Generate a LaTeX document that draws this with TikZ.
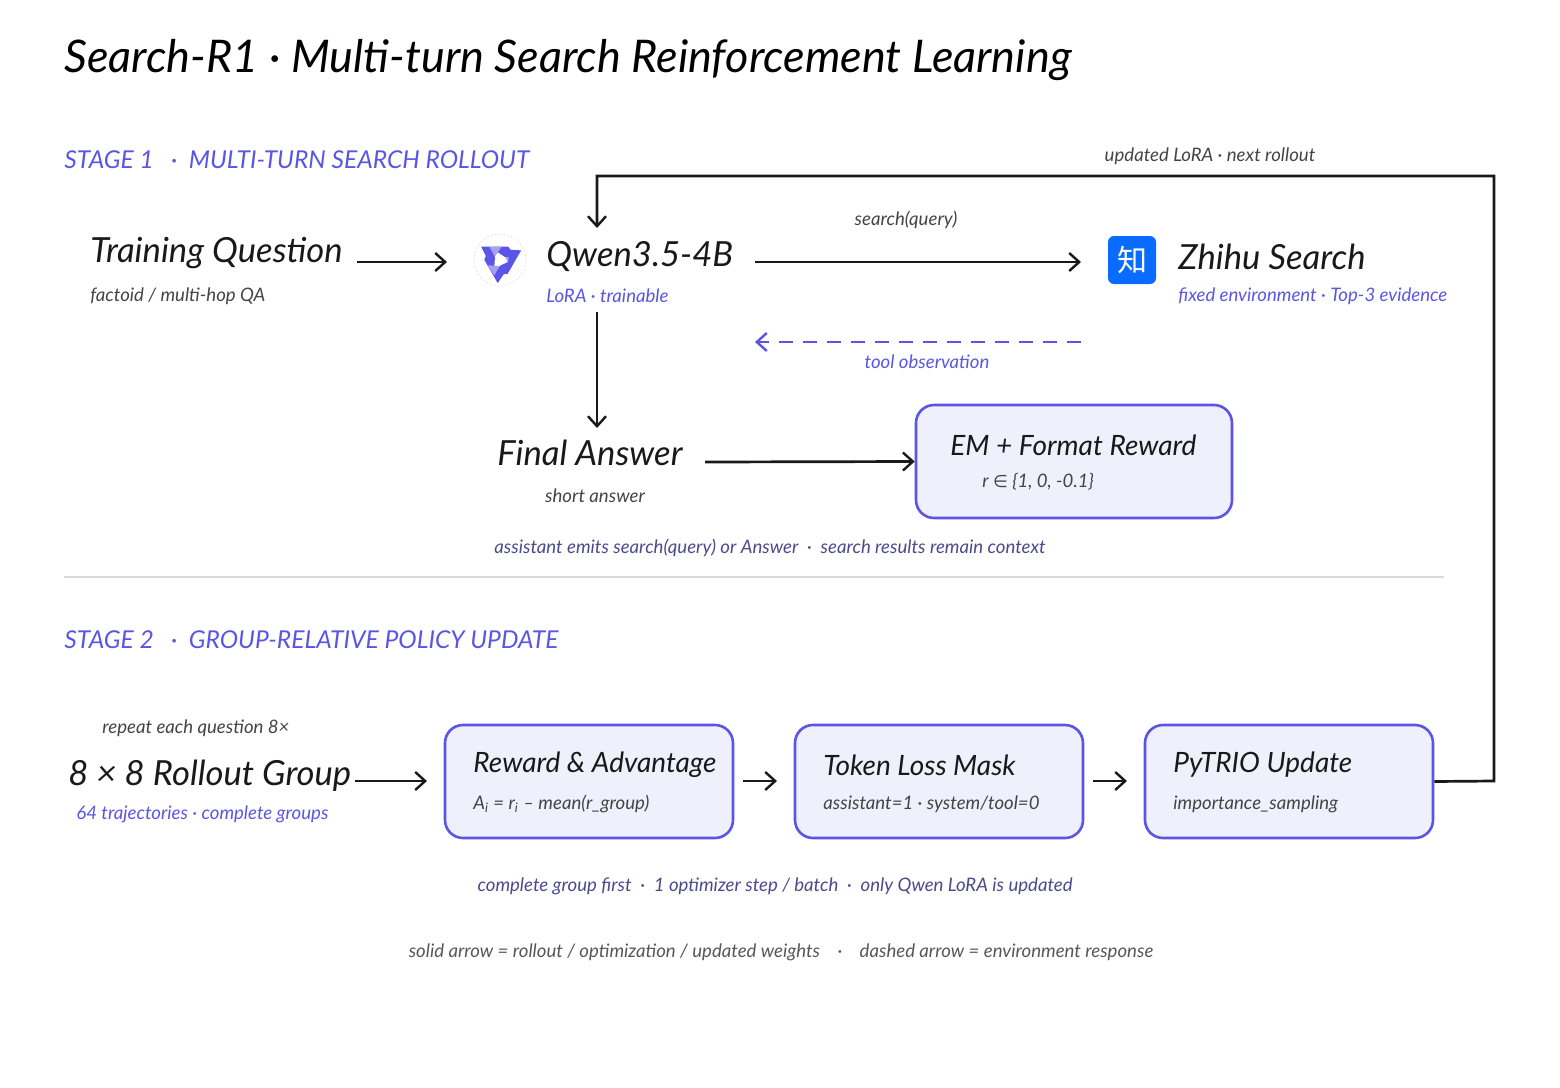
\documentclass[tikz,border=0pt]{standalone}
\usepackage{fontspec}
\setmainfont{Lato}
\newfontfamily\cjk{Noto Sans CJK SC}
\newfontfamily\dv{DejaVu Sans}
\usetikzlibrary{arrows.meta}
\definecolor{vio}{HTML}{5A55E6}
\definecolor{boxfill}{HTML}{F0F0FD}
\definecolor{note}{HTML}{4B4A8C}
\definecolor{sub}{HTML}{444444}
\definecolor{zh}{HTML}{0A6CFF}
\begin{document}
\begin{tikzpicture}[x=0.5pt,y=-0.5pt,
  every node/.style={inner sep=0pt,font=\itshape},
  big/.style={anchor=west,font=\itshape\fontsize{17.3}{20}\selectfont,text=black!90},
  subt/.style={anchor=west,font=\itshape\fontsize{9.3}{11}\selectfont,text=sub},
  vsub/.style={anchor=west,font=\itshape\fontsize{9.3}{11}\selectfont,text=vio},
  stage/.style={anchor=west,font=\itshape\fontsize{12.3}{14}\selectfont,text=vio},
  note/.style={font=\itshape\fontsize{9.3}{11}\selectfont,text=note},
  box/.style={draw=vio,line width=1.3pt,fill=boxfill,rounded corners=9pt},
  btitle/.style={anchor=west,font=\itshape\fontsize{14}{16}\selectfont,text=black!90},
  arr/.style={-{Straight Barb[length=5pt,width=9pt,line width=1.2pt]},line width=1.35pt,black!90},
]
\useasboundingbox (0,0) rectangle (1560,1088);
\node[anchor=west,font=\itshape\fontsize{22.5}{26}\selectfont] (title) at (64,60) {Search-R1 · Multi-turn Search Reinforcement Learning};
\node[stage] (s1) at (64,160) {STAGE 1\ \ \ ·\ \ MULTI-TURN SEARCH ROLLOUT};
% stage 1
\node[big] (tq) at (90,253) {Training Question};
\node[subt] (tqs) at (90,296) {factoid / multi-hop QA};
\coordinate (tqe) at (357,262);
\coordinate (qin) at (447,262);
\draw[arr] (tqe) -- (qin);
% qwen logo
\node[circle,draw=black!10,dash pattern=on 1pt off 1pt,minimum size=26pt,fill=white] (logo) at (500,260) {};
\begin{scope}[shift={(500,260)},scale=1.35]
\foreach \a in {0,120,240}{
 \fill[vio,rotate=\a] (-14,-10) -- (6,-10) -- (12,-2) -- (4,-2) -- (-2,-6) -- (-10,-2) -- cycle;
 \fill[vio!55,rotate=\a] (4,-2) -- (12,-2) -- (8,6) -- cycle;
}
\end{scope}
\node[big] (qw) at (546,257) {Qwen3.5-4B};
\node[vsub] (qws) at (546,296) {LoRA · trainable};
\coordinate (qwe) at (755,262);
\coordinate (zin) at (1081,262);
\draw[arr] (qwe) -- (zin);
\node[font=\itshape\fontsize{9.3}{11}\selectfont,text=sub] (sq) at (906,220) {search(query)};
\coordinate (da) at (1081,342);
\coordinate (db) at (755,342);
\draw[arr,vio,dash pattern=on 7pt off 5pt] (da) -- (db);
\node[font=\itshape\fontsize{9.3}{11}\selectfont,text=vio] (to) at (927,362) {tool observation};
% zhihu
\node[fill=zh,rounded corners=3pt,minimum size=24pt,text=white,font=\cjk\fontsize{15}{15}\selectfont] (zlogo) at (1132,260) {知};
\node[big] (zs) at (1178,257) {Zhihu Search};
\node[vsub] (zss) at (1178,296) {fixed environment · Top-3 evidence};
% final answer
\coordinate (qd) at (597,312);
\coordinate (fin) at (597,428);
\draw[arr] (qd) -- (fin);
\node[font=\itshape\fontsize{17.3}{20}\selectfont,text=black!90] (fa) at (590,453) {Final Answer};
\node[note,text=sub] (fas) at (595,496) {short answer};
\node[box,minimum width=158pt,minimum height=56.5pt] (em) at (1074,461.5) {};
\node[btitle] (emt) at (950,445) {EM + Format Reward};
\node[subt] (ems) at (982,482) {r {\dv\fontsize{8.5}{10}\selectfont ∈} \{1, 0, -0.1\}};
\coordinate (fae) at (705,462);
\draw[arr] (fae) -- (em.west);
\node[note] (n1) at (770,548) {assistant emits search(query) or Answer\ \ ·\ \ search results remain context};
\draw[black!15,line width=0.6pt] (64,577) -- (1444,577);
% stage 2
\node[stage] (s2) at (64,640) {STAGE 2\ \ \ ·\ \ GROUP-RELATIVE POLICY UPDATE};
\node[subt] (rep) at (102,728) {repeat each question 8×};
\node[big] (rg) at (68,776) {8 × 8 Rollout Group};
\node[vsub] (rgs) at (76,814) {64 trajectories · complete groups};
\node[box,minimum width=144pt,minimum height=56.5pt] (b1) at (589,781.5) {};
\node[box,minimum width=144pt,minimum height=56.5pt] (b2) at (939,781.5) {};
\node[box,minimum width=144pt,minimum height=56.5pt] (b3) at (1289,781.5) {};
\node[btitle] (b1t) at (473,765) {Reward \& Advantage};
\node[subt] (b1s) at (473,804) {A\textsubscript{i} = r\textsubscript{i} – mean(r\_group)};
\node[btitle] (b2t) at (823,765) {Token Loss Mask};
\node[subt] (b2s) at (823,804) {assistant=1 · system/tool=0};
\node[btitle] (b3t) at (1173,765) {PyTRIO Update};
\node[subt] (b3s) at (1173,804) {importance\_sampling};
\coordinate (rge) at (355,781);
\coordinate (b1in) at (427,781);
\draw[arr] (rge) -- (b1in);
\coordinate (a1) at (743,781); \coordinate (a2) at (777,781);
\coordinate (a3) at (1093,781); \coordinate (a4) at (1127,781);
\draw[arr] (a1) -- (a2);
\draw[arr] (a3) -- (a4);
\coordinate (qtop) at (597,228);
\draw[arr] (b3.east) -- (1494,781) -- (1494,176) -- (597,176) -- (qtop);
\node[note,text=sub] (ul) at (1210,156) {updated LoRA · next rollout};
\node[note] (n2) at (775,886) {complete group first\ \ ·\ \ 1 optimizer step / batch\ \ ·\ \ only Qwen LoRA is updated};
\node[note,text=sub!90] (leg) at (781,952) {solid arrow = rollout / optimization / updated weights\ \ \ \ ·\ \ \ \ dashed arrow = environment response};
\end{tikzpicture}
\end{document}
